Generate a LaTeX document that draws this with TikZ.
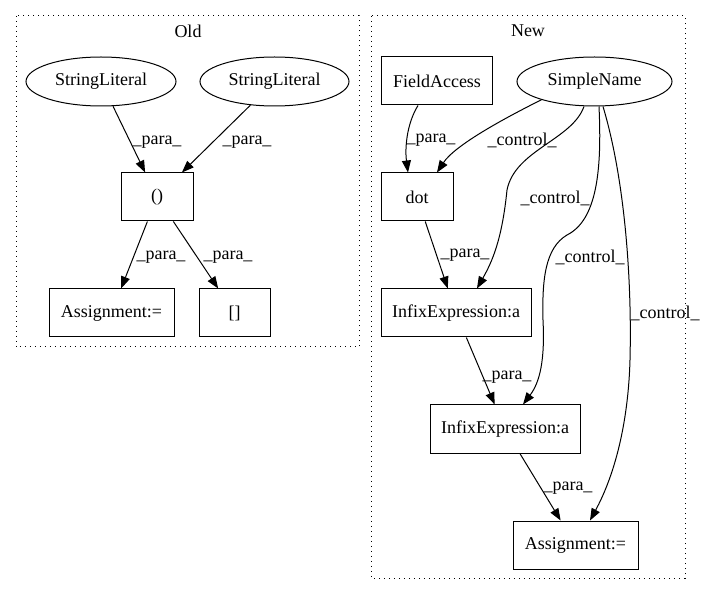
\documentclass[tikz,border=0pt]{standalone}
\usepackage{fontspec}
\setmainfont{Liberation Serif}
\usetikzlibrary{shapes.geometric,arrows.meta}
\begin{document}
\begin{tikzpicture}[x=1pt,y=-1pt,
  every node/.style={font=\fontsize{18}{21}\selectfont},
  box/.style={draw, rectangle, line width=1pt, inner sep=0pt, minimum height=48pt},
  oval/.style={draw, ellipse, line width=1pt, inner sep=0pt, minimum height=49pt},
  cluster/.style={draw, line width=1pt, dash pattern=on 1.2pt off 3.8pt},
  edge/.style={line width=1pt, -{Triangle[length=12pt,width=9pt]}},
  lbl/.style={inner sep=0pt},
]
\useasboundingbox (0,0) rectangle (705,596);
% clusters
\draw[cluster] (16,16) rectangle (359,347);
\draw[cluster] (371,16) rectangle (685,578);
\node (oldt) at (188,31) {Old};
\node (newt) at (528,31) {New};
% Old nodes
\node[oval, minimum width=150pt] (sl1) at (101,81.5) {StringLiteral};
\node[oval, minimum width=149pt] (sl2) at (274.5,81.5) {StringLiteral};
\node[box, minimum width=72pt] (par) at (157,197) {()};
\node[box, minimum width=125pt] (asg1) at (111.5,313) {Assignment:=};
\node[box, minimum width=71pt] (brk) at (234.5,313) {[]};
% New nodes
\node[box, minimum width=111pt] (fa) at (437,81) {FieldAccess};
\node[oval, minimum width=155pt] (sn) at (594.5,81.5) {SimpleName};
\node[box, minimum width=72pt] (dot) at (417,197) {dot};
\node[box, minimum width=150pt] (inf1) at (456,313) {InfixExpression:a};
\node[box, minimum width=150pt] (inf2) at (505,429) {InfixExpression:a};
\node[box, minimum width=125pt] (asg2) at (575.5,545) {Assignment:=};
% Old edges
\draw[edge] (sl1) -- (par);
\draw[edge] (sl2) -- (par);
\draw[edge] (par) -- (asg1);
\draw[edge] (par) -- (brk);
\node[lbl] (l1) at (157,142) {\_para\_};
\node[lbl] (l2) at (247,142) {\_para\_};
\node[lbl] (l3) at (161,257) {\_para\_};
\node[lbl] (l4) at (228,257) {\_para\_};
% New edges
\draw[edge] ([xshift=-19pt]fa.south) .. controls (406,125) and (405,150) .. ([xshift=-9pt]dot.north);
\node[lbl] (l5) at (431,140) {\_para\_};
\draw[edge] (sn.199) .. controls (505,118) and (455,145) .. ([xshift=20pt]dot.north);
\node[lbl] (l6) at (522,140) {\_control\_};
\draw[edge] ([xshift=-10.5pt]sn.south) .. controls (572,140) and (515,150) .. (507,190)
  .. controls (502,240) and (492,262) .. ([xshift=21pt]inf1.north);
\node[lbl] (l7) at (555,198) {\_control\_};
\draw[edge] ([xshift=4.5pt]sn.south) .. controls (602,170) and (597,220) .. (567,235)
  .. controls (545,248) and (542,280) .. (543,320)
  .. controls (545,360) and (540,382) .. ([xshift=18pt]inf2.north);
\node[lbl] (l8) at (590,257) {\_control\_};
\draw[edge] ([xshift=8.5pt]sn.south) .. controls (625,180) and (632,280) .. (630,360)
  .. controls (628,430) and (612,480) .. ([xshift=14.5pt]asg2.north);
\node[lbl] (l9) at (665,313) {\_control\_};
\draw[edge] (dot) -- (inf1);
\node[lbl] (l10) at (465,255) {\_para\_};
\draw[edge] (inf1) -- (inf2);
\node[lbl] (l11) at (507,377) {\_para\_};
\draw[edge] (inf2) -- (asg2);
\node[lbl] (l12) at (568,488) {\_para\_};
\end{tikzpicture}
\end{document}
